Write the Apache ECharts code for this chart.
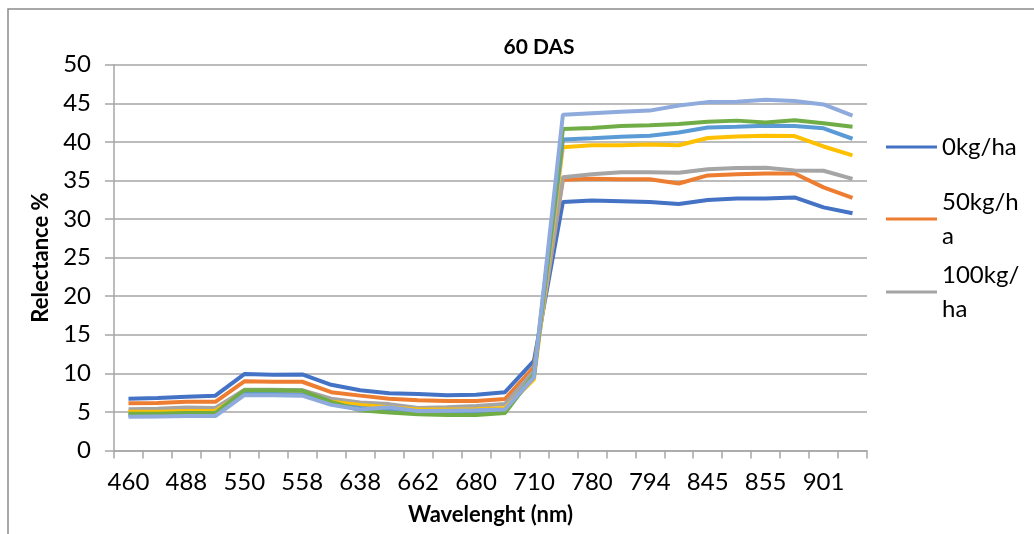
<!DOCTYPE html>
<html>
<head>
<meta charset="utf-8">
<script src="https://cdn.jsdelivr.net/npm/echarts@6/dist/echarts.min.js"></script>
<style>
html,body{margin:0;padding:0;background:#fff;}
#chart{width:1034px;height:534px;}
</style>
</head>
<body>
<div id="chart"></div>
<script>
// Wavelength categories (odd entries are unlabeled in the reference)
const wavelengths = ['460','470','488','510','550','555','558','600','638','650','662','670','680','698','710','740','780','788','794','810','845','850','855','870','901','920'];

const s0kg   = [6.7, 6.8, 6.95, 7.1, 9.9, 9.8, 9.85, 8.5, 7.8, 7.4, 7.3, 7.15, 7.2, 7.55, 11.6, 32.2, 32.4, 32.3, 32.2, 31.95, 32.45, 32.65, 32.65, 32.8, 31.5, 30.75];
const s50kg  = [6.1, 6.15, 6.3, 6.3, 8.95, 8.9, 8.9, 7.55, 7.1, 6.7, 6.5, 6.4, 6.4, 6.65, 10.8, 35.1, 35.2, 35.15, 35.15, 34.6, 35.65, 35.8, 35.9, 35.9, 34.1, 32.75];
const s100kg = [5.35, 5.4, 5.55, 5.5, 7.85, 7.85, 7.8, 6.7, 6.2, 6.0, 5.5, 5.6, 5.75, 6.0, 10.3, 35.4, 35.8, 36.05, 36.05, 36.0, 36.45, 36.6, 36.65, 36.3, 36.25, 35.2];
const s150kg = [5.0, 5.0, 5.1, 5.1, 7.5, 7.5, 7.45, 6.3, 5.9, 5.6, 5.3, 5.3, 5.35, 5.5, 9.2, 39.3, 39.55, 39.55, 39.65, 39.55, 40.5, 40.7, 40.8, 40.75, 39.4, 38.25];
const s200kg = [4.6, 4.6, 4.7, 4.7, 7.3, 7.3, 7.25, 6.0, 5.5, 5.2, 5.0, 4.95, 5.0, 5.1, 9.6, 40.3, 40.45, 40.65, 40.8, 41.2, 41.85, 41.95, 42.1, 42.05, 41.75, 40.4];
const s250kg = [4.75, 4.75, 4.85, 4.85, 7.8, 7.8, 7.75, 6.3, 5.2, 4.9, 4.7, 4.6, 4.6, 4.85, 9.8, 41.65, 41.8, 42.05, 42.15, 42.3, 42.6, 42.75, 42.5, 42.8, 42.4, 41.95];
const s300kg = [4.35, 4.4, 4.45, 4.45, 7.15, 7.15, 7.1, 5.9, 5.3, 5.6, 5.1, 5.15, 5.2, 5.3, 9.5, 43.5, 43.7, 43.9, 44.05, 44.7, 45.15, 45.2, 45.45, 45.3, 44.85, 43.4];

const seriesNames = ['0kg/ha','50kg/ha','100kg/ha','150kg/ha','200kg/ha','250kg/ha','300kg/ha'];
const seriesData = [s0kg, s50kg, s100kg, s150kg, s200kg, s250kg, s300kg];
const colors = ['#4472C4','#ED7D31','#A5A5A5','#FFC000','#5B9BD5','#70AD47','#8FAADC'];

const FONT = 'Lato, "Open Sans", sans-serif';
const chart = echarts.init(document.getElementById('chart'), null, {renderer:'canvas'});

function legendFor(name, label, top, twoLine) {
  return {
    data: [name],
    orient: 'vertical',
    left: 886,
    top: top,
    padding: 0,
    itemWidth: 51,
    itemHeight: 3,
    icon: 'rect',
    formatter: function(){ return label; },
    textStyle: {
      fontFamily: FONT, fontSize: 24, color: '#000', lineHeight: 34,
      padding: twoLine ? [34,0,0,0] : 0
    }
  };
}

chart.setOption({
  animation: false,
  color: colors,
  title: {
    text: '60 DAS',
    left: 534,
    textAlign: 'center',
    top: 32,
    textStyle: {fontFamily: FONT, fontSize: 21, fontWeight: 'bold', color: '#000'}
  },
  legend: [
    legendFor('0kg/ha', '0kg/ha', 130, false),
    legendFor('50kg/ha', '50kg/h\na', 219 - 51, true),
    legendFor('100kg/ha', '100kg/\nha', 292 - 51, true)
  ],
  grid: {left: 114, right: 167, top: 64.7, bottom: 83.6, containLabel: false},
  xAxis: {
    type: 'category',
    data: wavelengths,
    boundaryGap: true,
    name: 'Wavelenght (nm)',
    nameLocation: 'middle',
    nameGap: 54,
    nameTextStyle: {fontFamily: FONT, fontSize: 22, fontWeight: 'bold', color: '#000'},
    axisLine: {lineStyle: {color: '#A6A6A6', width: 1.5}},
    axisTick: {show: true, interval: 0, length: 8, lineStyle: {color: '#A6A6A6', width: 1.5}},
    axisLabel: {interval: 1, margin: 20, fontFamily: FONT, fontSize: 24, color: '#000'},
    splitLine: {show: false}
  },
  yAxis: {
    type: 'value',
    min: 0, max: 50, interval: 5,
    name: 'Relectance %',
    nameLocation: 'middle',
    nameGap: 60,
    nameTextStyle: {fontFamily: FONT, fontSize: 22, fontWeight: 'bold', color: '#000'},
    axisLine: {show: true, lineStyle: {color: '#A6A6A6', width: 1.5}},
    axisTick: {show: true, length: 9, lineStyle: {color: '#A6A6A6', width: 1.5}},
    axisLabel: {margin: 23, fontFamily: FONT, fontSize: 24, color: '#000'},
    splitLine: {show: true, lineStyle: {color: '#A6A6A6', width: 1.5}}
  },
  graphic: [{
    type: 'rect',
    shape: {x: 8, y: 9, width: 1200, height: 700},
    style: {fill: 'none', stroke: '#8C8C8C', lineWidth: 1.5},
    silent: true, z: -1
  }],
  series: seriesNames.map(function(n, i){
    return {
      name: n, type: 'line', data: seriesData[i],
      showSymbol: false, symbol: 'none',
      lineStyle: {width: 4, color: colors[i]},
      itemStyle: {color: colors[i]}
    };
  })
});
</script>
</body>
</html>
